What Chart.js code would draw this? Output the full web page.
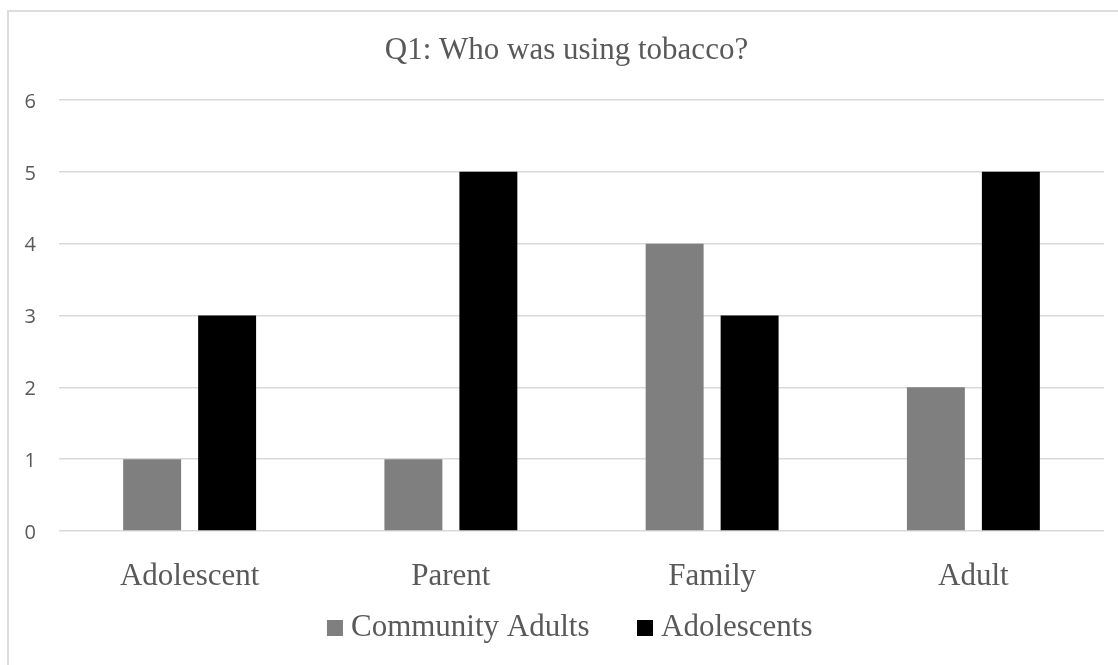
<!DOCTYPE html>
<html>
<head>
<meta charset="utf-8">
<script src="https://cdn.jsdelivr.net/npm/chart.js@4.4.0/dist/chart.umd.min.js"></script>
<style>
  html, body { margin: 0; padding: 0; background: #ffffff; overflow: hidden; }
  #wrap { position: relative; width: 1118px; height: 665px; }
  #frame { position: absolute; left: 7px; top: 10px; width: 1130px; height: 700px; border: 2px solid #dcdcdc; box-sizing: border-box; }
  #c { position: absolute; left: 0; top: 0; }
</style>
</head>
<body>
<div id="wrap">
  <div id="frame"></div>
  <canvas id="c" width="1118" height="665"></canvas>
</div>
<script>
const titleText = "Q1: Who was using tobacco?";
const categories = ["Adolescent", "Parent", "Family", "Adult"];
const seriesNames = ["Community Adults", "Adolescents"];
const communityAdults = [1, 1, 4, 2];
const adolescents = [3, 5, 3, 5];
const yTicks = [0, 1, 2, 3, 4, 5, 6];

const serif = "'Liberation Serif', 'Times New Roman', serif";
const textColor = "#595959";

// Place the title and legend blocks where the reference has them
const placeBlocks = {
  id: "placeBlocks",
  afterLayout(chart) {
    const lg = chart.legend;
    if (lg) {
      lg.top = 557.5;
      lg.bottom = 665;
      lg.height = lg.bottom - lg.top;
      lg.left = 43;
      lg.width = lg.right - lg.left;
    }
    const t = chart.titleBlock;
    if (t) { t.left = 29; t.width = t.right - t.left; }
  }
};

new Chart(document.getElementById("c"), {
  type: "bar",
  data: {
    labels: categories,
    datasets: [
      { label: seriesNames[0], data: communityAdults, backgroundColor: "#7f7f7f", borderWidth: 0 },
      { label: seriesNames[1], data: adolescents, backgroundColor: "#000000", borderWidth: 0 }
    ]
  },
  plugins: [placeBlocks],
  options: {
    responsive: false,
    animation: false,
    devicePixelRatio: 1,
    layout: { padding: { left: 20, right: 14, top: 0, bottom: 0 } },
    datasets: { bar: { barPercentage: 0.773, categoryPercentage: 0.574 } },
    plugins: {
      tooltip: { enabled: false },
      title: {
        display: true,
        text: titleText,
        color: textColor,
        font: { family: serif, size: 31, weight: "normal", lineHeight: 1.2 },
        padding: { top: 31.9, bottom: 30.9 }
      },
      legend: {
        display: true,
        position: "bottom",
        maxHeight: 20,
        labels: {
          color: textColor,
          font: { family: serif, size: 31, weight: "normal" },
          usePointStyle: true,
          pointStyle: "rect",
          boxWidth: 1,
          boxHeight: 16,
          padding: 55
        }
      }
    },
    scales: {
      x: {
        grid: { display: false },
        border: { display: false },
        ticks: {
          color: textColor,
          font: { family: serif, size: 31, lineHeight: 1.2 },
          padding: 19.4,
          maxRotation: 0
        },
        afterFit: (s) => { s.height = 114; }
      },
      y: {
        min: yTicks[0],
        max: yTicks[yTicks.length - 1],
        afterBuildTicks: (s) => { s.ticks = yTicks.map(v => ({ value: v })); },
        grid: { color: "#d9d9d9", lineWidth: 1.5, drawTicks: false },
        border: { display: false },
        ticks: {
          color: textColor,
          font: { family: "'Open Sans', sans-serif", size: 20 },
          padding: 23,
          labelOffset: 2
        },
        afterFit: (s) => { s.width = 39; }
      }
    }
  }
});
</script>
</body>
</html>
